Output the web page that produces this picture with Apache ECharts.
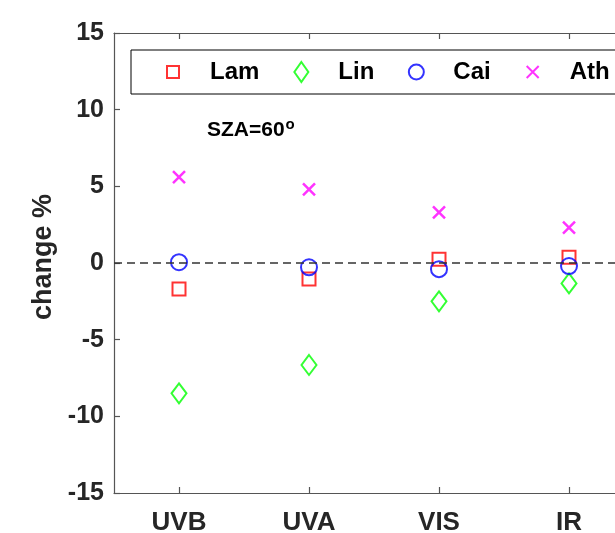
<!DOCTYPE html>
<html>
<head>
<meta charset="utf-8">
<script src="https://cdn.jsdelivr.net/npm/echarts@6/dist/echarts.min.js"></script>
<style>
  html, body { margin: 0; padding: 0; background: #fff; }
  #chart { width: 615px; height: 533px; }
</style>
</head>
<body>
<div id="chart"></div>
<script>
  // bands
  const categories = ['UVB', 'UVA', 'VIS', 'IR'];
  const seriesNames = ['Lam', 'Lin', 'Cai', 'Ath'];
  // change %
  const lamValues = [-1.7, -1.05, 0.25, 0.38];
  const linValues = [-8.5, -6.65, -2.5, -1.33];
  const caiValues = [0.05, -0.28, -0.4, -0.2];
  const athValues = [5.6, 4.8, 3.3, 2.3];
  const yTicks = [-15, -10, -5, 0, 5, 10, 15];

  const FONT = 'Liberation Sans, Arial, sans-serif';

  // the original axes run past the right edge of the picture:
  // x goes from 0.5 and only about 3.85 bands are visible
  const xMin = 0.5;
  const xMax = 0.5 + 501 / 130;
  const xPos = categories.map((c, i) => i + 1);

  // legend icons drawn in a 22x22 frame (first two moves fix the frame)
  const icons = {
    Lam: 'path://M0,0M22,22M5,5L17,5L17,17L5,17Z',
    Lin: 'path://M0,0M22,22M11,1L18,11L11,21L4,11Z',
    Cai: 'path://M0,0M22,22M3.5,11A7.5,7.5 0 1,1 18.5,11A7.5,7.5 0 1,1 3.5,11Z',
    Ath: 'path://M0,0M22,22M5,5L17,17M17,5L5,17'
  };
  const colors = { Lam: '#ff0000', Lin: '#00ff00', Cai: '#0000ff', Ath: '#ff00ff' };

  const chart = echarts.init(document.getElementById('chart'));

  function markerSeries(name, values, symbol, size, width) {
    return {
      name: name,
      type: 'scatter',
      data: values.map((v, i) => [xPos[i], v]),
      symbol: symbol,
      symbolSize: size,
      itemStyle: { color: 'rgba(0,0,0,0)', borderColor: colors[name], borderWidth: width || 2 },
      emphasis: { disabled: true },
      z: 3
    };
  }

  const axisColor = '#555';
  const tickStyle = { color: axisColor, width: 1.2 };

  const option = {
    animation: false,
    grid: { left: 114, top: 33, right: 0, bottom: 40, containLabel: false, outerBoundsMode: 'none' },
    legend: {
      left: 131,
      top: 50,
      width: 900,
      padding: [10, 40, 10, 30],
      borderColor: '#000',
      borderWidth: 1,
      backgroundColor: '#fff',
      itemWidth: 64,
      itemHeight: 22,
      itemGap: 30,
      selectedMode: false,
      textStyle: { color: '#000', fontSize: 24, fontWeight: 'bold', fontFamily: FONT },
      data: seriesNames.map(n => ({
        name: n,
        icon: icons[n],
        itemStyle: { color: 'rgba(0,0,0,0)', borderColor: colors[n], borderWidth: 2 }
      }))
    },
    graphic: [{
      type: 'text',
      left: 207,
      top: 117,
      style: {
        text: '{a|SZA=60}{b|o}',
        rich: {
          a: { fontSize: 21, fontWeight: 'bold', fontFamily: FONT, fill: '#000' },
          b: { fontSize: 15, fontWeight: 'bold', fontFamily: FONT, fill: '#000', verticalAlign: 'top', padding: [0, 0, 12, 1] }
        }
      }
    }],
    xAxis: [{
      type: 'value',
      min: xMin,
      max: xMax,
      position: 'bottom',
      axisLine: { onZero: false, lineStyle: tickStyle },
      axisTick: { inside: true, length: 6, customValues: xPos, lineStyle: tickStyle },
      axisLabel: {
        margin: 17, customValues: xPos, color: '#262626', fontSize: 26, fontWeight: 'bold', fontFamily: FONT,
        formatter: v => categories[Math.round(v) - 1]
      },
      splitLine: { show: false }
    }, {
      type: 'value',
      min: xMin,
      max: xMax,
      position: 'top',
      axisLine: { onZero: false, lineStyle: tickStyle },
      axisTick: { inside: true, length: 6, customValues: xPos, lineStyle: tickStyle },
      axisLabel: { show: false },
      splitLine: { show: false }
    }],
    yAxis: {
      type: 'value',
      min: yTicks[0],
      max: yTicks[yTicks.length - 1],
      interval: 5,
      name: 'change %',
      nameLocation: 'middle',
      nameGap: 57,
      nameTextStyle: { color: '#262626', fontSize: 27, fontWeight: 'bold', fontFamily: FONT, padding: [0, 0, 0, 12] },
      axisLine: { show: true, onZero: false, lineStyle: tickStyle },
      axisTick: { show: true, inside: true, length: 6, lineStyle: tickStyle },
      axisLabel: { margin: 10, color: '#262626', fontSize: 25, fontWeight: 'bold', fontFamily: FONT },
      splitLine: { show: false }
    },
    series: [
      Object.assign(markerSeries('Lam', lamValues, 'rect', 13), {
        markLine: {
          silent: true,
          symbol: 'none',
          label: { show: false },
          lineStyle: { color: '#333', width: 1.5, type: [8, 5] },
          data: [{ yAxis: 0 }]
        }
      }),
      markerSeries('Lin', linValues, 'diamond', [15, 20]),
      markerSeries('Cai', caiValues, 'circle', 16),
      markerSeries('Ath', athValues, 'path://M0,0L10,10M10,0L0,10', 12, 2.5)
    ]
  };

  chart.setOption(option);
</script>
</body>
</html>
